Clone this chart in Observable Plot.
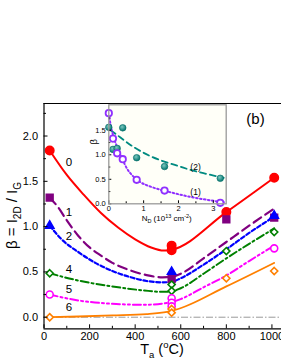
<!DOCTYPE html>
<html><head><meta charset="utf-8">
<script src="https://cdn.jsdelivr.net/npm/d3@7"></script>
<script src="https://cdn.jsdelivr.net/npm/@observablehq/plot@0.6"></script>
<style>
html,body{margin:0;padding:0;background:#fff;overflow:hidden;}
#wrap{position:relative;width:281px;height:363px;overflow:hidden;}
#wrap svg{position:absolute;}
</style></head><body><div id="wrap"></div>
<script>
const font = "'Liberation Sans', Arial, Helvetica, sans-serif";

// ---------- main panel data ----------
const seriesNames = ["0", "1", "2", "4", "5", "6"];
const seriesColors = ["#ff0000", "#800080", "#0000ff", "#008000", "#ff00ff", "#ff8000"];
const seriesSymbols = ["circle", "square", "triangle", "diamond2", "circle", "diamond2"];
const seriesFilled = [true, true, true, false, false, false];
const seriesDash = [null, "9,5", "4,2.5", "8,3,2,3", "8,3,2,3,2,3", null];
const seriesWidth = [2, 2.2, 2.2, 2, 2, 1.8];
const seriesR = [4.2, 3.8, 3.1, 3.2, 3.5, 3.2];

// measured points [T (°C), beta]
const pts0 = [[25,1.84],[560,0.79],[560,0.74],[800,1.16],[1010,1.54]];
const pts1 = [[25,1.32],[560,0.42],[800,1.08],[1010,1.10]];
const pts2 = [[25,1.01],[560,0.50],[1010,1.12]];
const pts4 = [[25,0.485],[560,0.36],[560,0.29],[800,0.73],[1010,0.94]];
const pts5 = [[25,0.25],[560,0.21],[560,0.16],[560,0.12],[1010,0.76]];
const pts6 = [[25,0.0],[560,0.09],[560,0.05],[800,0.43],[1010,0.51]];

// fit curves [T, beta]
const fit0 = [[25,1.84],[100,1.57],[175,1.35],[250,1.15],[325,0.99],[400,0.86],[470,0.77],[525,0.735],[560,0.745],[800,1.16],[1010,1.54]];
const fit1 = [[25,1.32],[60,1.22],[100,1.07],[150,0.90],[200,0.77],[250,0.68],[300,0.60],[375,0.52],[450,0.465],[520,0.44],[560,0.445],[600,0.48],[700,0.65],[800,0.83],[900,1.01],[1010,1.20]];
const fit2 = [[25,1.01],[75,0.865],[150,0.72],[225,0.60],[300,0.51],[375,0.445],[450,0.40],[520,0.385],[560,0.39],[600,0.43],[700,0.58],[800,0.75],[900,0.93],[1010,1.11]];
const fit4 = [[25,0.485],[150,0.405],[300,0.34],[440,0.295],[520,0.28],[560,0.285],[600,0.32],[700,0.48],[800,0.65],[900,0.81],[1010,0.98]];
const fit5 = [[25,0.25],[150,0.185],[300,0.148],[440,0.137],[520,0.15],[560,0.165],[600,0.20],[700,0.33],[800,0.46],[900,0.62],[1010,0.79]];
const fit6 = [[25,0.0],[150,0.008],[300,0.02],[450,0.035],[540,0.06],[575,0.08],[800,0.34],[1010,0.60]];

const seriesPts = [pts0, pts1, pts2, pts4, pts5, pts6];
const seriesFits = [fit0, fit1, fit2, fit4, fit5, fit6];

// curve number labels
const labelT = [110, 110, 110, 110, 110, 110];
const labelV = [1.71, 1.16, 0.89, 0.53, 0.31, 0.11];

const panelLabel = ["(b)"];
const panelT = [928];
const panelV = [2.19];

// axes
const xDomain = [0, 1042];
const yDomain = [-0.128, 2.359];
const xTicks = [0, 200, 400, 600, 800, 1000];
const xMinor = [100, 300, 500, 700, 900];
const yTicks = [0, 0.5, 1.0, 1.5, 2.0];
const yMinor = [0.25, 0.75, 1.25, 1.75, 2.25];
const zeroLine = [0];

// ---------- inset data ----------
const insetN = [0, 0.12, 0.24, 0.4, 0.8, 1.6, 3.2];
const insetBeta1 = [1.85, 1.33, 1.03, 0.91, 0.49, 0.27, 0.02];
const insetBeta2 = [1.56, 1.11, 1.13, 1.55, 0.94, 0.76, 0.52];
const insetFit1 = [[0,1.85],[0.05,1.62],[0.14,1.36],[0.25,1.14],[0.34,0.99],[0.53,0.71],[0.7,0.56],[0.91,0.44],[1.2,0.35],[1.49,0.285],[1.8,0.23],[2.15,0.17],[2.5,0.12],[2.83,0.08],[3.3,0.03]];
const insetFit2 = [[0.05,1.50],[0.19,1.43],[0.45,1.29],[0.72,1.155],[1.0,1.04],[1.2,0.97],[1.68,0.84],[2.0,0.77],[2.35,0.69],[2.8,0.61],[3.3,0.53]];
const insetLabels = ["(2)", "(1)"];
const insetLabelN = [2.49, 2.49];
const insetLabelB = [0.75, 0.24];
const insetXDomain = [0, 3.37];
const insetYDomain = [0, 2.02];
const insetXTicks = [0, 1, 2, 3];
const insetXMinor = [0.5, 1.5, 2.5];
const insetYTicks = [0, 0.5, 1.0, 1.5];
const insetYMinor = [0.25, 0.75, 1.25, 1.75];

// ---------- main plot ----------
const mainMarks = [
  Plot.ruleY(zeroLine, {stroke: "#9a9a9a", strokeWidth: 1, strokeDasharray: "7,2,1.5,2"})
];
seriesFits.forEach((f, i) => {
  mainMarks.push(Plot.line(f, {x: d => d[0], y: d => d[1], stroke: seriesColors[i],
    strokeWidth: seriesWidth[i], strokeDasharray: seriesDash[i], curve: "monotone-x"}));
});
seriesPts.forEach((p, i) => {
  mainMarks.push(Plot.dot(p, {x: d => d[0], y: d => d[1], symbol: seriesSymbols[i],
    r: seriesR[i],
    fill: seriesFilled[i] ? seriesColors[i] : "white", stroke: seriesColors[i], strokeWidth: 1.6}));
});
mainMarks.push(
  Plot.text(seriesNames, {x: (d, i) => labelT[i], y: (d, i) => labelV[i], text: d => d, fontSize: 11.5, fill: "#000"}),
  Plot.text(panelLabel, {x: (d, i) => panelT[i], y: (d, i) => panelV[i], text: d => d, fontSize: 15, fill: "#000"}),
  Plot.ruleX([xDomain[0]], {stroke: "#000", strokeWidth: 1.2}),
  Plot.ruleY([yDomain[0], yDomain[1]], {stroke: "#000", strokeWidth: 1.2}),
  Plot.axisX({ticks: xTicks, tickSize: -4, tickPadding: 7, tickFormat: d => String(d), label: null, fontSize: 11}),
  Plot.axisX({ticks: xMinor, tickSize: -2.5, tickFormat: () => "", label: null}),
  Plot.axisY({ticks: yTicks, tickSize: -4, tickPadding: 10, tickFormat: d3.format(".1f"), label: null, fontSize: 11}),
  Plot.axisY({ticks: yMinor, tickSize: -2.5, tickFormat: () => "", label: null})
);

const main = Plot.plot({
  width: 281, height: 363,
  marginLeft: 43.5, marginRight: 0, marginTop: 103, marginBottom: 34.7,
  x: {domain: xDomain},
  y: {domain: yDomain},
  style: {fontFamily: font, fontSize: "11px", background: "transparent", color: "#000"},
  marks: mainMarks
});
main.style.left = "0px"; main.style.top = "0px";

// axis titles with sub/superscripts
const ms = d3.select(main);
const yl = ms.append("text")
  .attr("transform", "translate(17,215.5) rotate(-90)")
  .attr("text-anchor", "middle")
  .attr("font-family", font).attr("font-size", 15).attr("fill", "#000");
yl.append("tspan").text("β = I");
yl.append("tspan").attr("font-size", 10).attr("dy", 4).text("2D");
yl.append("tspan").attr("dy", -4).text(" / I");
yl.append("tspan").attr("font-size", 10).attr("dy", 4).text("G");

const xl = ms.append("text")
  .attr("x", 162).attr("y", 354)
  .attr("text-anchor", "middle")
  .attr("font-family", font).attr("font-size", 14.5).attr("fill", "#000");
xl.append("tspan").text("T");
xl.append("tspan").attr("font-size", 9.5).attr("dy", 4).text("a");
xl.append("tspan").attr("dy", -4).text(" (");
xl.append("tspan").attr("font-size", 9.5).attr("dy", -6).text("o");
xl.append("tspan").attr("dy", 6).text("C)");

document.getElementById("wrap").appendChild(main);

// ---------- inset plot ----------
const teal = "#008a80";
const violet = "#9030ff";
const inset = Plot.plot({
  width: 150, height: 130,
  marginLeft: 28.3, marginRight: 4.3, marginTop: 9.3, marginBottom: 21.7,
  x: {domain: insetXDomain},
  y: {domain: insetYDomain},
  style: {fontFamily: font, fontSize: "7.5px", background: "transparent", color: "#000"},
  marks: [
    Plot.frame({fill: "#fffff8", stroke: "none"}),
    Plot.line(insetFit2, {x: d => d[0], y: d => d[1], stroke: teal, strokeWidth: 1.8, strokeDasharray: "6,4", curve: "monotone-x"}),
    Plot.line(insetFit1, {x: d => d[0], y: d => d[1], stroke: violet, strokeWidth: 2, strokeDasharray: "1.6,2.4", curve: "monotone-x"}),
    Plot.dot(insetN, {x: d => d, y: (d, i) => insetBeta2[i], r: 3.3, fill: "url(#tealBall)", stroke: "#006a64", strokeWidth: 0.6}),
    Plot.dot(insetN, {x: d => d, y: (d, i) => insetBeta1[i], r: 3.2, fill: "white", stroke: violet, strokeWidth: 1.8}),
    Plot.text(insetLabels, {x: (d, i) => insetLabelN[i], y: (d, i) => insetLabelB[i], text: d => d, fontSize: 8.5, fill: "#000"}),
    Plot.axisX({ticks: insetXTicks, tickSize: -3, tickPadding: 4.5, tickFormat: d => String(d), label: null, fontSize: 7.5}),
    Plot.axisX({ticks: insetXMinor, tickSize: -2, tickFormat: () => "", label: null}),
    Plot.axisY({ticks: insetYTicks, tickSize: -3, tickPadding: 6, tickFormat: d3.format(".1f"), label: null, fontSize: 7.5}),
    Plot.axisY({ticks: insetYMinor, tickSize: -2, tickFormat: () => "", label: null}),
    Plot.frame({stroke: "#9a9a9a", strokeWidth: 1.3})
  ]
});
inset.style.left = "80px"; inset.style.top = "95px";
const is = d3.select(inset);
const grad = is.append("defs").append("radialGradient").attr("id", "tealBall")
  .attr("cx", "40%").attr("cy", "35%").attr("r", "65%");
grad.append("stop").attr("offset", "0%").attr("stop-color", "#7cc8c0");
grad.append("stop").attr("offset", "100%").attr("stop-color", "#00756d");

is.append("text")
  .attr("transform", "translate(16.5,46.7) rotate(-90)")
  .attr("text-anchor", "middle")
  .attr("font-family", font).attr("font-size", 9.5).attr("fill", "#000").text("β");

const nl = is.append("text")
  .attr("x", 86.7).attr("y", 126)
  .attr("text-anchor", "middle")
  .attr("font-family", font).attr("font-size", 8).attr("fill", "#000");
nl.append("tspan").text("N");
nl.append("tspan").attr("font-size", 5.5).attr("dy", 2).text("D");
nl.append("tspan").attr("dy", -2).text(" (10");
nl.append("tspan").attr("font-size", 5.5).attr("dy", -3).text("13");
nl.append("tspan").attr("dy", 3).text(" cm");
nl.append("tspan").attr("font-size", 5.5).attr("dy", -3).text("-2");
nl.append("tspan").attr("dy", 3).text(")");

document.getElementById("wrap").appendChild(inset);
</script>
</body></html>
